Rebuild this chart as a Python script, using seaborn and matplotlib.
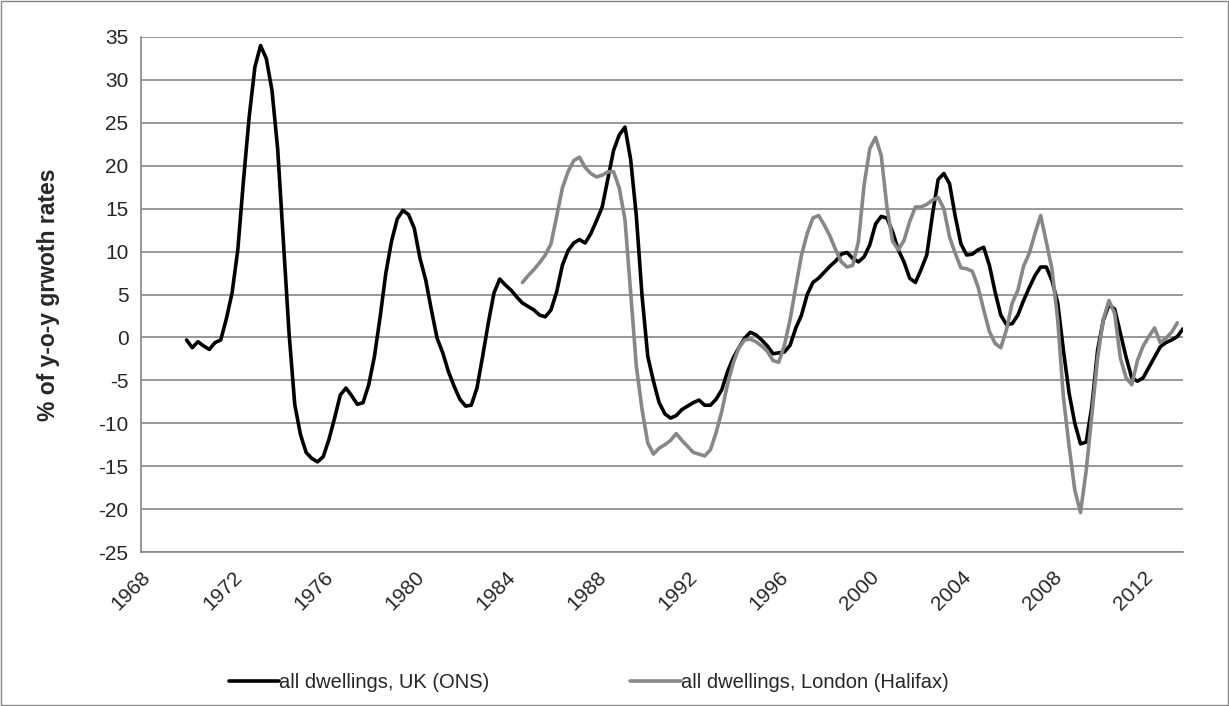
import numpy as np
import pandas as pd
import matplotlib
matplotlib.use("Agg")
import matplotlib.pyplot as plt
from matplotlib.patches import Rectangle
import seaborn as sns

# quarterly y-o-y growth, %
uk_start = 1970.0          # first quarter of the ONS series
uk_growth = [
    -0.3, -1.2, -0.5, -1.0, -1.4, -0.6, -0.3, 2.2, 5.2, 10.2,
    18.3, 25.7, 31.5, 34.0, 32.5, 28.8, 22.0, 11.2, 0.5, -7.8,
    -11.3, -13.4, -14.1, -14.5, -13.9, -11.9, -9.4, -6.7, -5.9, -6.8,
    -7.8, -7.6, -5.5, -2.2, 2.4, 7.5, 11.2, 13.8, 14.8, 14.3,
    12.7, 9.2, 6.7, 3.2, -0.1, -1.8, -4.0, -5.7, -7.2, -8.0,
    -7.9, -5.9, -2.2, 1.7, 5.2, 6.8, 6.1, 5.5, 4.7, 4.0,
    3.6, 3.2, 2.6, 2.4, 3.2, 5.3, 8.4, 10.1, 11.0, 11.4,
    11.0, 12.1, 13.6, 15.2, 18.5, 21.8, 23.6, 24.5, 20.7, 14.1,
    4.8, -2.2, -5.1, -7.6, -8.9, -9.4, -9.1, -8.4, -8.0, -7.6,
    -7.3, -7.9, -7.9, -7.2, -6.1, -4.0, -2.4, -1.2, -0.1, 0.6,
    0.3, -0.3, -1.0, -1.9, -1.8, -1.7, -0.9, 1.1, 2.6, 5.0,
    6.4, 6.9, 7.6, 8.3, 8.9, 9.7, 9.9, 9.2, 8.8, 9.4,
    10.8, 13.2, 14.1, 13.9, 12.3, 10.2, 8.8, 6.9, 6.4, 7.9,
    9.6, 14.3, 18.4, 19.1, 17.9, 14.1, 10.9, 9.6, 9.7, 10.2,
    10.5, 8.4, 5.3, 2.6, 1.5, 1.6, 2.6, 4.3, 5.8, 7.2,
    8.2, 8.2, 6.6, 4.0, -1.5, -6.5, -10.0, -12.4, -12.2, -8.0,
    -1.5, 2.0, 3.8, 3.3, 0.5, -2.3, -4.7, -5.1, -4.7, -3.5,
    -2.3, -1.1, -0.6, -0.3, 0.1, 1.0,
]

london_start = 1984.75     # first quarter of the Halifax London series
london_growth = [
    6.4, 7.2, 7.9, 8.7, 9.6, 10.9, 14.1, 17.4, 19.3, 20.6,
    21.0, 19.8, 19.1, 18.7, 18.9, 19.3, 19.3, 17.4, 13.7, 5.2,
    -3.4, -8.4, -12.3, -13.6, -12.9, -12.5, -12.0, -11.2, -12.0, -12.7,
    -13.4, -13.6, -13.8, -13.1, -11.1, -8.6, -5.5, -3.0, -1.2, -0.3,
    -0.2, -0.5, -1.0, -1.6, -2.7, -2.9, -0.9, 2.1, 5.9, 9.6,
    12.1, 13.9, 14.2, 13.1, 11.8, 10.2, 8.8, 8.2, 8.4, 11.2,
    17.8, 22.0, 23.3, 21.2, 15.2, 11.2, 10.2, 11.3, 13.5, 15.2,
    15.2, 15.5, 16.0, 16.3, 15.0, 11.7, 9.8, 8.1, 8.0, 7.7,
    5.9, 3.2, 0.7, -0.7, -1.2, 0.9, 4.0, 5.5, 8.3, 9.8,
    12.1, 14.2, 11.1, 7.9, 2.0, -7.0, -12.7, -17.8, -20.4, -15.5,
    -9.0, -2.4, 2.1, 4.3, 2.8, -2.4, -4.7, -5.5, -2.7, -1.0,
    0.1, 1.1, -0.6, -0.1, 0.6, 1.7,
]

series_names = ["all dwellings, UK (ONS)", "all dwellings, London (Halifax)"]
series_colors = ["#000000", "#878787"]
year_ticks = list(range(1968, 2013, 4))
value_ticks = list(range(-25, 36, 5))

uk = pd.DataFrame({
    "year": uk_start + np.arange(len(uk_growth)) / 4,
    "growth": uk_growth,
    "series": series_names[0],
})
london = pd.DataFrame({
    "year": london_start + np.arange(len(london_growth)) / 4,
    "growth": london_growth,
    "series": series_names[1],
})
df = pd.concat([uk, london], ignore_index=True)

sns.set_style("white")
plt.rcParams["font.family"] = ["Liberation Sans", "DejaVu Sans"]
grid_col = "#868686"

fig = plt.figure(figsize=(12.29, 7.06), dpi=100)
ax = fig.add_axes([141 / 1229, 1 - 552 / 706, (1183 - 141) / 1229, (552 - 37) / 706])

sns.lineplot(data=df, x="year", y="growth", hue="series", hue_order=series_names,
             palette=series_colors, linewidth=2.6, ax=ax, legend=True, sort=False)

ax.set_xlim(1968, 2013.75)
ax.set_ylim(-25, 35)
ax.set_xticks(year_ticks)
ax.set_xticklabels([str(y) for y in year_ticks], rotation=45, ha="right",
                   rotation_mode="anchor", fontsize=15)
ax.set_yticks(value_ticks)
ax.set_yticklabels([str(v) for v in value_ticks], fontsize=15)
ax.tick_params(axis="both", length=0)
ax.tick_params(axis="y", pad=9)
ax.tick_params(axis="x", pad=11)

ax.yaxis.grid(True, color=grid_col, linewidth=1.2)
ax.set_axisbelow(True)
for side in ["top", "right"]:
    ax.spines[side].set_visible(False)
ax.spines["left"].set_color(grid_col)
ax.spines["bottom"].set_color(grid_col)
ax.spines["left"].set_linewidth(1.2)
ax.spines["bottom"].set_linewidth(1.2)

ax.set_xlabel("")
ax.set_ylabel("% of y-o-y grwoth rates", fontsize=16.5, fontweight="bold")
ax.yaxis.set_label_coords(-0.078, 0.5)

handles, labels = ax.get_legend_handles_labels()
ax.get_legend().remove()
fig.legend(handles, labels, loc="center", bbox_to_anchor=(0.479, 1 - 683 / 706),
           ncol=2, frameon=False, fontsize=14.5, handlelength=2.5,
           handletextpad=0.0, columnspacing=7.0)

fig.patches.append(Rectangle((0.001, 0.001), 0.998, 0.997, transform=fig.transFigure,
                             fill=False, edgecolor=grid_col, linewidth=1.0))

fig.savefig("out.png", dpi=100)
